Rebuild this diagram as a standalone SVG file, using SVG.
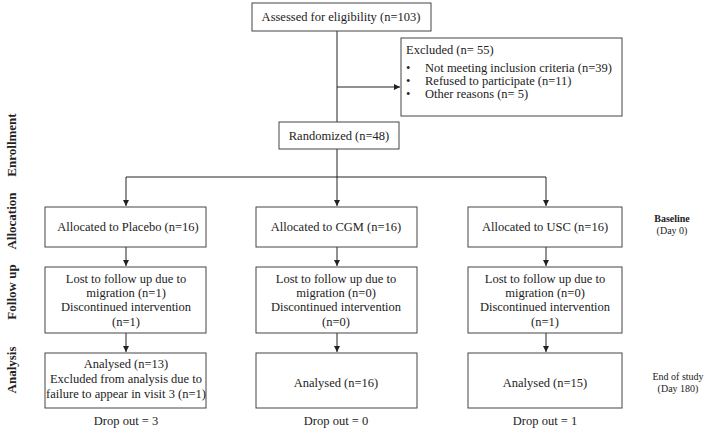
<svg xmlns="http://www.w3.org/2000/svg" width="708" height="431" viewBox="0 0 708 431">
<defs>
<marker id="ah" viewBox="0 0 8 8" refX="8" refY="4" markerWidth="6" markerHeight="6" orient="auto" markerUnits="userSpaceOnUse">
<path d="M0,0 L8,4 L0,8 z" fill="#222"/>
</marker>
</defs>
<style>
.box{fill:#fff;stroke:#444;stroke-width:1}
.t{font-family:"Liberation Serif","Times New Roman",serif;font-size:12.5px;fill:#222;text-anchor:middle}
.tl{font-family:"Liberation Serif","Times New Roman",serif;font-size:12.5px;fill:#222}
.side{font-family:"Liberation Serif","Times New Roman",serif;font-size:13px;font-weight:bold;fill:#222;text-anchor:middle}
.note{font-family:"Liberation Serif","Times New Roman",serif;font-size:10px;fill:#222;text-anchor:middle}
.ln{fill:none;stroke:#222;stroke-width:1}
.ar{fill:none;stroke:#222;stroke-width:1;marker-end:url(#ah)}
</style>
<rect width="708" height="431" fill="#fff"/>
<g id="connectors">
<path class="ln" d="M337,31 V122"/>
<path class="ar" d="M337,87 H400"/>
<path class="ln" d="M337,149 V177"/>
<path class="ln" d="M126,177 H546"/>
<path class="ar" d="M126,177 V206"/>
<path class="ar" d="M337,177 V206"/>
<path class="ar" d="M546,177 V206"/>
<path class="ar" d="M126,247 V266"/>
<path class="ar" d="M337,247 V266"/>
<path class="ar" d="M546,247 V266"/>
<path class="ar" d="M126,333 V352"/>
<path class="ar" d="M337,333 V352"/>
<path class="ar" d="M546,333 V352"/>
</g>
<g id="assessed">
<rect class="box" x="252" y="3" width="179" height="28"/>
<text class="t" x="341" y="21">Assessed for eligibility (n=103)</text>
</g>
<g id="excluded">
<rect class="box" x="401" y="38" width="221" height="78"/>
<text class="tl" x="406" y="54">Excluded (n= 55)</text>
<text class="tl" x="406" y="72">•</text>
<text class="tl" x="425" y="72">Not meeting inclusion criteria (n=39)</text>
<text class="tl" x="406" y="85">•</text>
<text class="tl" x="425" y="85">Refused to participate (n=11)</text>
<text class="tl" x="406" y="98">•</text>
<text class="tl" x="425" y="98">Other reasons (n= 5)</text>
</g>
<g id="randomized">
<rect class="box" x="279" y="122" width="120" height="27"/>
<text class="t" x="339" y="140">Randomized (n=48)</text>
</g>
<g id="side-labels">
<text class="side" transform="translate(16,145) rotate(-90)">Enrollment</text>
<text class="side" transform="translate(16,221) rotate(-90)">Allocation</text>
<text class="side" transform="translate(16,292) rotate(-90)">Follow up</text>
<text class="side" transform="translate(16,370) rotate(-90)">Analysis</text>
</g>
<g id="alloc-placebo">
<rect class="box" x="45" y="207" width="161" height="40"/>
<text class="t" x="128" y="231">Allocated to Placebo (n=16)</text>
</g>
<g id="alloc-cgm">
<rect class="box" x="256" y="207" width="161" height="40"/>
<text class="t" x="336" y="231">Allocated to CGM (n=16)</text>
</g>
<g id="alloc-usc">
<rect class="box" x="468" y="207" width="154" height="40"/>
<text class="t" x="545" y="231">Allocated to USC (n=16)</text>
</g>
<g id="baseline-note">
<text class="note" x="672" y="222" font-weight="bold">Baseline</text>
<text class="note" x="672" y="234">(Day 0)</text>
</g>
<g id="fu-placebo">
<rect class="box" x="45" y="267" width="161" height="66"/>
<text class="t" x="126" y="283">Lost to follow up due to</text>
<text class="t" x="126" y="297">migration (n=1)</text>
<text class="t" x="126" y="311">Discontinued intervention</text>
<text class="t" x="126" y="326">(n=1)</text>
</g>
<g id="fu-cgm">
<rect class="box" x="256" y="267" width="161" height="66"/>
<text class="t" x="336" y="283">Lost to follow up due to</text>
<text class="t" x="336" y="297">migration (n=0)</text>
<text class="t" x="336" y="311">Discontinued intervention</text>
<text class="t" x="336" y="326">(n=0)</text>
</g>
<g id="fu-usc">
<rect class="box" x="468" y="267" width="154" height="66"/>
<text class="t" x="545" y="283">Lost to follow up due to</text>
<text class="t" x="545" y="297">migration (n=0)</text>
<text class="t" x="545" y="311">Discontinued intervention</text>
<text class="t" x="545" y="326">(n=1)</text>
</g>
<g id="an-placebo">
<rect class="box" x="45" y="353" width="161" height="55"/>
<text class="t" x="126" y="368">Analysed (n=13)</text>
<text class="t" x="126" y="383">Excluded from analysis due to</text>
<text class="t" x="126" y="398">failure to appear in visit 3 (n=1)</text>
</g>
<g id="an-cgm">
<rect class="box" x="256" y="353" width="161" height="55"/>
<text class="t" x="336" y="387">Analysed (n=16)</text>
</g>
<g id="an-usc">
<rect class="box" x="468" y="353" width="154" height="55"/>
<text class="t" x="545" y="387">Analysed (n=15)</text>
</g>
<g id="end-note">
<text class="note" x="678" y="380">End of study</text>
<text class="note" x="678" y="392">(Day 180)</text>
</g>
<g id="dropouts">
<text class="t" x="126" y="425">Drop out = 3</text>
<text class="t" x="336" y="425">Drop out = 0</text>
<text class="t" x="545" y="425">Drop out = 1</text>
</g>
</svg>
